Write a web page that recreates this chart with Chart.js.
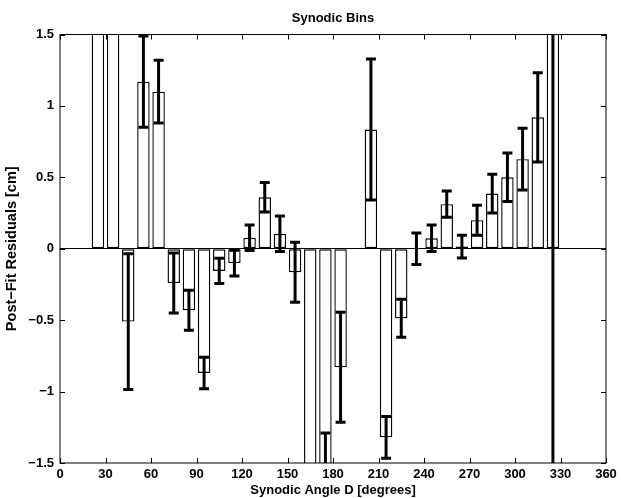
<!DOCTYPE html>
<html>
<head>
<meta charset="utf-8">
<script src="https://cdn.jsdelivr.net/npm/chart.js@4.4.0/dist/chart.umd.min.js"></script>
<style>
  html, body { margin: 0; padding: 0; background: #fff; }
</style>
</head>
<body>
<canvas id="chart" width="621" height="498"></canvas>
<script>
// bin centres (degrees), residual per bin and its error, all in cm
const binCenters = [25, 35, 45, 55, 65, 75, 85, 95, 105, 115, 125, 135, 145, 155, 165,
                    175, 185, 205, 215, 225, 235, 245, 255, 265, 275, 285, 295, 305, 315, 325];
const residuals  = [3.2, 2.6, -0.51, 1.17, 1.10, -0.24, -0.43, -0.87, -0.155, -0.10, 0.077, 0.36, 0.105, -0.165, -2.4,
                    -1.62, -0.83, 0.835, -1.32, -0.487, 0.0, 0.073, 0.312, 0.015, 0.20, 0.386, 0.50, 0.627, 0.92, 2.0];
const errors     = [0.6, 0.5, 0.475, 0.32, 0.22, 0.21, 0.14, 0.11, 0.088, 0.09, 0.09, 0.103, 0.125, 0.21, 0.5,
                    0.33, 0.385, 0.494, 0.146, 0.133, 0.11, 0.093, 0.092, 0.08, 0.105, 0.135, 0.17, 0.216, 0.313, 3.8];
const xTicks = [0, 30, 60, 90, 120, 150, 180, 210, 240, 270, 300, 330, 360];
const yTicks = [-1.5, -1, -0.5, 0, 0.5, 1, 1.5];

const FAMILY = '"Liberation Sans", Arial, sans-serif';
const FONT = { family: FAMILY, size: 13, weight: 'bold' };

// error whiskers with caps, centred on each bar end
const errorBars = {
  id: 'errorBars',
  afterDatasetsDraw(chart) {
    const { ctx, chartArea, scales: { x, y } } = chart;
    ctx.save();
    ctx.beginPath();
    ctx.rect(chartArea.left, chartArea.top, chartArea.width, chartArea.height);
    ctx.clip();
    ctx.strokeStyle = '#000';
    ctx.lineWidth = 3;
    binCenters.forEach((c, i) => {
      const px = x.getPixelForValue(c);
      const lo = y.getPixelForValue(residuals[i] - errors[i]);
      const hi = y.getPixelForValue(residuals[i] + errors[i]);
      ctx.beginPath();
      ctx.moveTo(px, lo); ctx.lineTo(px, hi);
      ctx.moveTo(px - 5, lo); ctx.lineTo(px + 5, lo);
      ctx.moveTo(px - 5, hi); ctx.lineTo(px + 5, hi);
      ctx.stroke();
    });
    ctx.restore();
  }
};

// matlab style box with inward ticks on all four sides, title over the axes
const boxTicks = {
  id: 'boxTicks',
  afterDraw(chart) {
    const { ctx, chartArea: a, scales: { x, y } } = chart;
    const len = 5;
    ctx.save();
    ctx.strokeStyle = '#000';
    ctx.lineWidth = 1;
    ctx.strokeRect(a.left, a.top, a.width, a.height);
    ctx.beginPath();
    x.ticks.forEach(t => {
      const px = Math.round(x.getPixelForValue(t.value)) + 0.5;
      ctx.moveTo(px, a.bottom); ctx.lineTo(px, a.bottom - len);
      ctx.moveTo(px, a.top); ctx.lineTo(px, a.top + len);
    });
    y.ticks.forEach(t => {
      const py = Math.round(y.getPixelForValue(t.value)) + 0.5;
      ctx.moveTo(a.left, py); ctx.lineTo(a.left + len, py);
      ctx.moveTo(a.right, py); ctx.lineTo(a.right - len, py);
    });
    ctx.stroke();
    ctx.fillStyle = '#000';
    ctx.font = 'bold 13px ' + FAMILY;
    ctx.textAlign = 'center';
    ctx.textBaseline = 'middle';
    ctx.fillText('Synodic Bins', (a.left + a.right) / 2, 18);
    ctx.restore();
  }
};

new Chart(document.getElementById('chart'), {
  type: 'bar',
  data: {
    datasets: [{
      data: binCenters.map((c, i) => ({ x: c, y: residuals[i] })),
      backgroundColor: '#fff',
      borderColor: '#000',
      borderWidth: 1.4,
      borderSkipped: false,
      barPercentage: 0.82,
      categoryPercentage: 1,
      clip: 0
    }]
  },
  options: {
    responsive: false,
    animation: false,
    layout: { padding: { left: 0, right: 15, top: 34.5, bottom: 0 } },
    plugins: {
      legend: { display: false },
      tooltip: { enabled: false }
    },
    scales: {
      x: {
        type: 'linear',
        min: 0,
        max: 360,
        offset: false,
        afterBuildTicks: s => { s.ticks = xTicks.map(v => ({ value: v })); },
        afterFit: s => { s.height = 35; },
        grid: { display: false, drawTicks: false },
        border: { display: false },
        ticks: { color: '#000', font: FONT, padding: 4, maxRotation: 0, autoSkip: false },
        title: { display: true, text: 'Synodic Angle D [degrees]', color: '#000', font: FONT, padding: { top: 0, bottom: 0 } }
      },
      y: {
        min: -1.5,
        max: 1.5,
        afterBuildTicks: s => { s.ticks = yTicks.map(v => ({ value: v })); },
        afterFit: s => { s.width = 60; },
        grid: {
          drawTicks: false,
          color: c => (c.tick && c.tick.value === 0 ? '#000' : 'rgba(0,0,0,0)'),
          lineWidth: 1
        },
        border: { display: false },
        ticks: {
          color: '#000',
          font: FONT,
          padding: 6,
          callback: v => String(v).replace('-', '\u2212')
        },
        title: {
          display: true,
          text: 'Post\u2212Fit Residuals [cm]',
          color: '#000',
          font: { family: FAMILY, size: 14.5, weight: 'bold' },
          padding: { top: 3, bottom: 0 }
        }
      }
    }
  },
  plugins: [errorBars, boxTicks]
});
</script>
</body>
</html>
